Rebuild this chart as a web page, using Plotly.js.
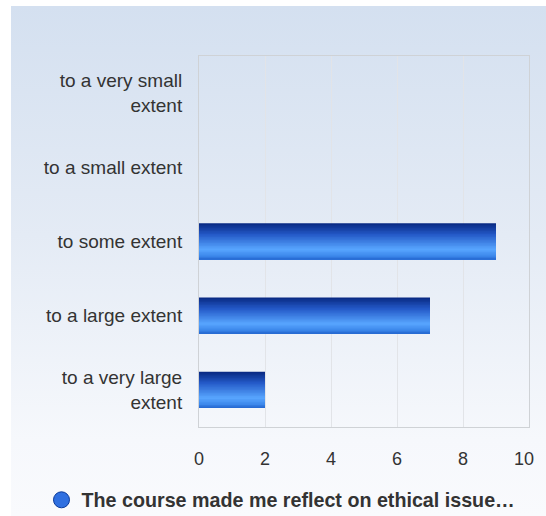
<!DOCTYPE html>
<html><head><meta charset="utf-8">
<script src="https://cdn.plot.ly/plotly-3.0.1.min.js"></script>
<style>
html,body{margin:0;padding:0;background:#fff;width:546px;height:516px;overflow:hidden;}
#bg{position:absolute;left:11px;top:6px;width:535px;height:510px;background:linear-gradient(to bottom,#d4e0f0 0%,#e4ebf5 45%,#f6f8fc 85%,#f9fafd 100%);}
#chart{position:absolute;left:0;top:0;width:546px;height:516px;}
</style></head>
<body><div id="bg"></div><div id="chart"></div>
<script>
// Data (bottom-to-top order on the axis)
const categories = ["to a very large<br>extent","to a large extent","to some extent","to a small extent","to a very small<br>extent"];
const values = [2, 7, 9, 0, 0];
const seriesName = "The course made me reflect on ethical issue…";
const xTicks = [0, 2, 4, 6, 8, 10];
const xTickLabels = ["0", "2", "4", "6", "8", "10\u2007"];

// Gradient across bar thickness, built from nested overlaid bars (style only)
const barWidth = 0.49;
const nBands = 24;
const stops = [[0, [8,40,128]], [0.3, [35,88,198]], [0.72, [88,166,255]], [0.9, [60,135,235]], [1, [34,100,205]]];
function colorAt(t){
  for(let i=0;i<stops.length-1;i++){
    const a=stops[i], b=stops[i+1];
    if(t>=a[0] && t<=b[0]){
      const f=(t-a[0])/(b[0]-a[0]);
      const c=a[1].map((v,k)=>Math.round(v+(b[1][k]-v)*f));
      return `rgb(${c[0]},${c[1]},${c[2]})`;
    }
  }
  return 'rgb(34,100,205)';
}
const traces = [];
const h = barWidth / nBands;
// j = 0 is the top band; each trace spans from bar bottom up to the top of band j
for(let j=0;j<nBands;j++){
  const t = (j+0.5)/nBands;
  const span = barWidth - j*h;
  traces.push({
    type:'bar', orientation:'h', x:values, y:categories,
    width: span, offset: -barWidth/2,
    marker:{color:colorAt(t), line:{width:0}},
    showlegend:false, hoverinfo:'skip'
  });
}
traces.push({
  type:'scatter', mode:'markers', x:[null], y:[null], name:seriesName,
  marker:{symbol:'circle', size:18, color:'#2f6fe0', line:{color:'#0b3a9a', width:1}},
  showlegend:true
});

const layout = {
  width:546, height:516,
  paper_bgcolor:'rgba(0,0,0,0)', plot_bgcolor:'rgba(0,0,0,0)',
  margin:{l:199, r:17, t:56, b:89},
  barmode:'overlay',
  font:{family:'"Liberation Sans", Arial, sans-serif', color:'#333', size:19},
  xaxis:{range:[0,10], tickvals:xTicks, ticktext:xTickLabels, showgrid:true, gridcolor:'#e2e4e8', gridwidth:1,
    zeroline:false, showline:true, linecolor:'#cfd2d6', mirror:true,
    ticks:'', ticklabelstandoff:15, tickfont:{size:18, color:'#333'}, fixedrange:true},
  yaxis:{type:'category', categoryorder:'array', categoryarray:categories,
    showgrid:false, zeroline:false, showline:true, linecolor:'#cfd2d6', mirror:true,
    ticks:'', ticklabelstandoff:12, tickfont:{size:19, color:'#333'}},
  showlegend:true,
  legend:{orientation:'h', xref:'container', yref:'container', x:0.076, xanchor:'left',
    y:0.031, yanchor:'middle', font:{size:19.7, color:'#333', weight:'bold'},
    bgcolor:'rgba(0,0,0,0)', itemwidth:30}
};
Plotly.newPlot('chart', traces, layout, {displayModeBar:false, staticPlot:true});
</script></body></html>
